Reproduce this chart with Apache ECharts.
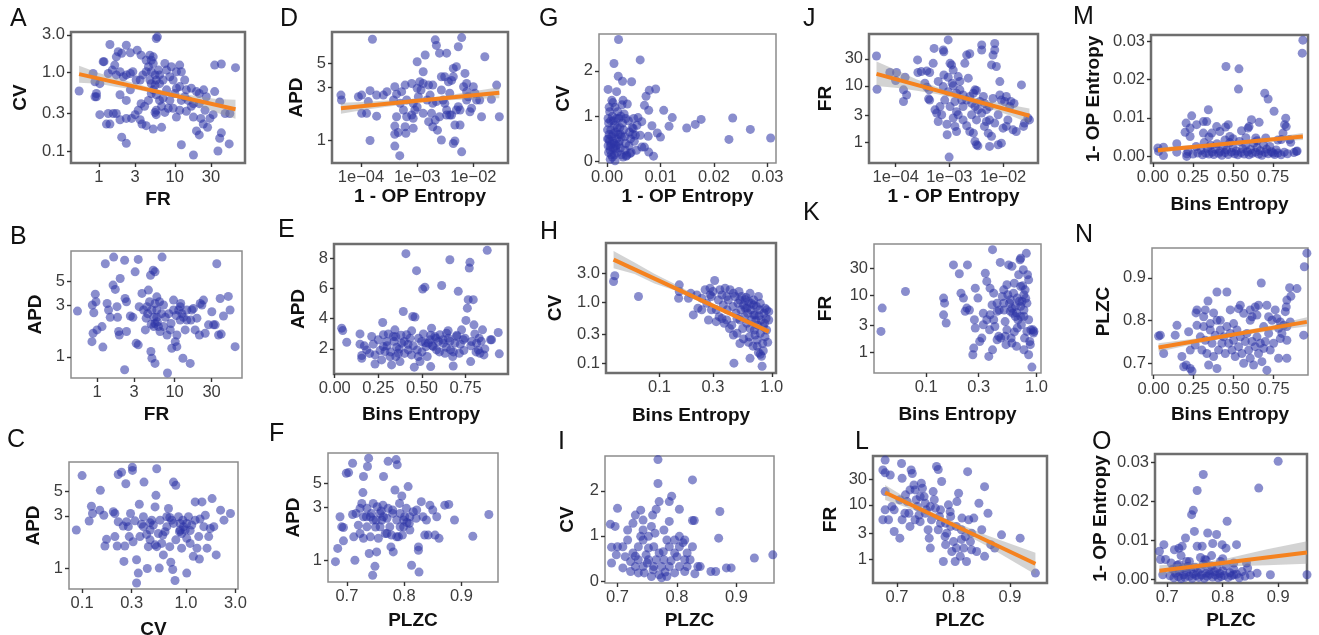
<!DOCTYPE html>
<html>
<head>
<meta charset="utf-8">
<title>Pairwise feature scatter</title>
<script src="https://cdn.jsdelivr.net/npm/echarts@6/dist/echarts.min.js"></script>
<style>
html, body { margin: 0; padding: 0; background: #fff; }
#main { width: 1319px; height: 635px; }
</style>
</head>
<body>
<div id="main"></div>
<script>
// ---- tick values / labels ----
var ticksFR = [1, 3, 10, 30],            labelsFR = ['1', '3', '10', '30'];
var ticksCV = [0.1, 0.3, 1, 3],          labelsCV = ['0.1', '0.3', '1.0', '3.0'];
var ticksAPD = [1, 3, 5],                labelsAPD = ['1', '3', '5'];
var ticksAPDlin = [2, 4, 6, 8],          labelsAPDlin = ['2', '4', '6', '8'];
var ticksOPElog = [1e-4, 1e-3, 1e-2],    labelsOPElog = ['1e\u221204', '1e\u221203', '1e\u221202'];
var ticksOPE = [0, 0.01, 0.02, 0.03],    labelsOPE = ['0.00', '0.01', '0.02', '0.03'];
var ticksBE = [0, 0.25, 0.5, 0.75],      labelsBE = ['0.00', '0.25', '0.50', '0.75'];
var ticksBElog = [0.1, 0.3, 1],          labelsBElog = ['0.1', '0.3', '1.0'];
var ticksPLZC = [0.7, 0.8, 0.9],         labelsPLZC = ['0.7', '0.8', '0.9'];
var ticksCVlin = [0, 1, 2],              labelsCVlin = ['0', '1', '2'];

// ---- A: FR vs CV ----
var ptsA = [[1.4,2.27],[2.3,2.22],[2.0,1.75],[1.8,1.83],[1.7,1.58],[1.62,1.24],[2.6,1.78],[3.2,1.92],[3.6,1.66],[4.2,1.43],[4.5,1.18],[4.7,1.66],[4.9,1.43],[5.2,1.58],[5.7,2.7],[5.9,2.84],[5.2,1.3],[4.9,1.02],[4.2,1.02],[3.8,0.93],[3.5,0.8],[3.1,0.8],[2.8,1.02],[2.6,0.97],[2.3,0.93],[2.1,0.88],[1.9,1.02],[1.7,0.93],[1.5,1.07],[1.33,0.97],[1.03,0.72],[5.7,0.8],[6.3,0.72],[5.5,0.69],[5.2,0.6],[4.9,0.54],[4.5,0.44],[4.0,0.37],[3.6,0.4],[3.3,0.33],[3.0,0.29],[2.7,0.26],[2.3,0.26],[1.9,0.25],[1.55,0.30],[1.7,0.30],[2.0,0.15],[2.3,0.125],[4.2,0.21],[5.2,0.19],[6.7,0.2],[5.7,0.33],[5.7,0.29],[5.5,0.31],[6.3,0.44],[7.0,0.47],[7.8,0.6],[7.4,1.3],[7.8,1.07],[8.6,0.88],[9.0,1.18],[10.5,1.02],[11.6,1.24],[12.2,1.02],[13.5,0.8],[11.6,0.66],[10,0.54],[8.6,0.44],[8.2,0.35],[7.4,0.31],[9.5,0.35],[11.6,0.33],[10.5,0.27],[12.2,0.44],[13.5,0.49],[14.2,0.6],[16.5,0.63],[19.3,0.57],[21,0.54],[24,0.6],[26,0.49],[17.6,0.4],[16.5,0.37],[21,0.4],[25,0.33],[22,0.26],[23.7,0.22],[27,0.2],[19.3,0.18],[21,0.16],[17.6,0.27],[12.2,0.12],[17.6,0.089],[33.5,0.57],[33.5,1.24],[41,1.28],[63,1.15],[39,0.42],[46,0.30],[53,0.30],[41,0.17],[39,0.145],[52,0.123],[37,0.1],[29,0.26],[32,0.29],[4.7,0.8],[4.9,0.72],[5.5,0.93],[6.1,1.07],[6.3,0.93],[7.0,0.8],[5.7,0.52],[6.7,0.37],[2.3,0.44],[2.6,0.6],[1.9,0.52],[3.5,0.25],[3.7,0.22],[9.5,0.8],[10.5,0.63],[15,0.44],[14.2,0.32],[1.03,0.29],[0.93,0.49],[0.55,0.58],[0.84,0.97],[0.89,0.76],[0.93,0.54],[0.89,0.49],[1.14,1.37],[1.17,1.37],[1.26,0.22],[1.4,0.22],[1.33,0.30]];
var fitA = [[0.55, 0.95], [63, 0.34]];
var bandA = [[0.55,0.74,1.22],[1.0,0.72,0.98],[1.7,0.65,0.85],[3.2,0.6,0.71],[5.6,0.535,0.615],[10,0.48,0.55],[19,0.39,0.5],[35,0.31,0.46],[63,0.258,0.45]];

// ---- D: 1-OP Entropy vs APD ----
var ptsD = [[4.4e-5,2.57],[4.5e-5,2.32],[9e-5,2.48],[1.03e-4,2.57],[1.35e-4,2.24],[1.45e-4,2.82],[1.6e-4,8.3],[1.9e-4,2.57],[2.5e-4,2.57],[2.9e-4,2.76],[1.26e-4,1.75],[1.03e-4,1.75],[1.9e-4,1.65],[1.45e-4,0.99],[3.8e-4,2.32],[4.0e-4,3.06],[4.3e-4,2.62],[5.3e-4,2.76],[6.1e-4,3.17],[5e-4,2.16],[5.7e-4,1.88],[6.5e-4,1.63],[4.3e-4,1.63],[4e-4,1.34],[4.6e-4,1.17],[4e-4,1.13],[4e-4,0.88],[4.9e-4,0.72],[6.1e-4,1.32],[6.3e-4,1.15],[8.5e-4,1.28],[8e-4,1.69],[8.5e-4,1.58],[9.1e-4,1.88],[1e-3,2.96],[1e-3,5.18],[1.12e-3,3.4],[1.05e-3,2.48],[1.17e-3,2.86],[1.28e-3,3.28],[1.39e-3,5.96],[1.28e-3,4.2],[1.5e-3,2.32],[1.6e-3,3.17],[1.7e-3,2.57],[1.8e-3,1.75],[1.9e-3,3.17],[1.9e-3,2.16],[2.1e-3,8.2],[2.2e-3,7.3],[2.1e-3,1.52],[1.9e-3,1.32],[2.3e-3,1.23],[2.5e-3,6.2],[2.7e-3,3.78],[2.7e-3,2.86],[2.9e-3,2.32],[3.1e-3,3.78],[3.35e-3,6.2],[3.35e-3,1.88],[3.6e-3,3.4],[3.8e-3,2.67],[4.1e-3,3.5],[4.1e-3,1.69],[4.4e-3,3.78],[4.4e-3,4.5],[4.7e-3,1.37],[3.8e-3,1.69],[3.35e-3,1.69],[4.7e-3,0.98],[5e-3,4.67],[5.4e-3,7.1],[5.8e-3,1.37],[6.2e-3,8.6],[5.4e-3,2.01],[6.2e-3,0.78],[7.1e-3,4.05],[7.6e-3,2.76],[7.6e-3,3.28],[8.1e-3,2.48],[8.7e-3,1.81],[9.3e-3,1.95],[1e-2,3.06],[1.07e-2,2.67],[1.14e-2,2.32],[1.3e-2,2.32],[1.4e-2,1.63],[1.6e-2,5.75],[2.1e-2,2.35],[2.6e-2,3.17],[2.9e-2,1.63],[2.7e-3,1.0],[4.4e-3,0.93],[5.8e-3,1.88],[2.2e-3,2.24],[3.1e-3,2.16],[1.6e-3,1.47],[1e-3,2.0],[8.5e-4,2.16],[6.5e-4,2.32],[8e-4,3.28],[1.28e-3,1.75],[2.5e-3,1.63],[5e-3,1.88],[7.6e-3,2.32],[6.7e-3,3.06]];
var fitD = [[4.4e-5, 1.95], [2.9e-2, 2.7]];
var bandD = [[4.4e-5,1.74,2.19],[1.1e-4,1.88,2.22],[2.5e-4,1.99,2.28],[5.5e-4,2.1,2.33],[1.2e-3,2.21,2.4],[2.7e-3,2.29,2.51],[6e-3,2.33,2.67],[1.3e-2,2.38,2.84],[2.9e-2,2.41,3.03]];

// ---- G: 1-OP Entropy vs CV ----
var ptsG = [[0.00215,2.69],[0.0013,2.16],[0.0062,2.24],[0.0021,1.88],[0.0029,1.77],[0.0046,1.76],[0.0002,1.59],[0.0018,1.54],[0.0079,1.57],[0.0091,1.6],[0.0073,1.44],[0.0106,1.13],[0.007,1.24],[0.0078,1.13],[0.0122,0.97],[0.0058,0.97],[0.0116,0.78],[0.0149,0.74],[0.0165,0.82],[0.0176,0.93],[0.0235,0.96],[0.0268,0.71],[0.0228,0.49],[0.0306,0.52],[0.0094,0.63],[0.01,0.54],[0.0077,0.56],[0.0084,0.79],[0.0065,0.88],[0.0056,0.8],[0.0049,0.73],[0.0053,0.58],[0.0062,0.58],[0.0065,0.32],[0.007,0.32],[0.0078,0.21],[0.0087,0.12],[0.0043,0.18],[0.0037,0.14],[0.003,0.1],[0.0002,0.95],[0.0003,0.85],[0.0004,0.6],[0.0005,0.45],[0.0002,0.35],[0.0006,0.25],[0.0003,0.2],[0.0008,0.15],[0.001,0.1],[0.0012,0.3],[0.0007,0.7],[0.0009,0.55],[0.001,1.0],[0.0012,0.9],[0.0015,1.2],[0.0011,1.3],[0.0014,0.8],[0.0016,0.65],[0.0018,0.5],[0.0013,0.4],[0.0017,0.35],[0.0019,0.2],[0.002,1.1],[0.0022,0.95],[0.0024,0.75],[0.0021,0.6],[0.0023,0.45],[0.0025,0.3],[0.0027,0.15],[0.0028,1.25],[0.003,1.35],[0.0032,1.05],[0.0029,0.85],[0.0031,0.7],[0.0033,0.55],[0.0035,0.4],[0.0034,0.25],[0.0036,0.12],[0.0038,1.27],[0.004,0.9],[0.0042,0.65],[0.0044,0.5],[0.0041,0.35],[0.0045,0.2],[0.0005,1.1],[0.0004,1.2],[0.0001,0.7],[0.0001,0.5],[0.0006,0.05],[0.0015,0.02],[0.0009,1.35],[0.0026,1.0],[0.0019,0.75],[0.0008,0.38],[0.0016,0.28],[0.0035,0.95],[0.0027,0.55],[0.0012,0.62],[0.0022,0.38],[0.0047,0.75],[0.0051,0.45],[0.0055,0.25],[0.0050,0.95],[0.0048,0.6],[0.0003,0.5],[0.0007,0.9],[0.0011,0.45],[0.0014,0.15],[0.0018,0.95],[0.0025,0.6],[0.0006,0.33]];

// ---- J: 1-OP Entropy vs FR ----
var ptsJ = [[4.4e-5,33.8],[4.5e-5,8.7],[7.8e-5,17.2],[1.04e-4,17.2],[1.0e-4,12.4],[1.4e-4,8.5],[1.6e-4,6.9],[1.4e-4,5.3],[1.5e-4,14.2],[2.56e-4,28.8],[2.6e-4,17.2],[3.0e-4,17.9],[3.8e-4,18.4],[4.3e-4,17.2],[4.2e-4,8.5],[3.5e-4,11.1],[3.8e-4,9.5],[4.1e-4,5.9],[4.3e-4,5.6],[5e-4,25],[5.2e-4,46],[5.4e-4,3.77],[5.8e-4,3.3],[6.2e-4,2.35],[7.2e-4,3.08],[7.7e-4,43],[7.9e-4,40],[7.9e-4,15.6],[8.2e-4,5.6],[9e-4,2.1],[9.1e-4,1.37],[9.5e-4,65],[9.5e-4,14.2],[9.5e-4,7.9],[1.03e-3,25],[1.1e-3,23.5],[1.13e-3,11.1],[1.18e-3,10],[1.27e-3,5.3],[1.18e-3,2.7],[1.27e-3,1.92],[1.36e-3,1.56],[9.9e-4,0.55],[1.46e-3,14.6],[1.57e-3,12],[1.7e-3,5.6],[1.8e-3,4.3],[1.94e-3,25],[2.1e-3,35],[2.4e-3,37],[2.25e-3,13.7],[2.6e-3,3.08],[2.4e-3,1.56],[2.1e-3,1.97],[2.8e-3,1.46],[3.0e-3,1.04],[3.2e-3,0.91],[3.4e-3,0.87],[3.0e-3,8.5],[3.2e-3,8.3],[3.7e-3,5.3],[4.0e-3,3.3],[4.0e-3,53],[4.0e-3,43],[4.3e-3,6.5],[4.5e-3,4.9],[4.9e-3,2.35],[5.3e-3,1.46],[5.6e-3,0.85],[6.1e-3,1.28],[6.1e-3,23.5],[6.5e-3,35],[7.0e-3,56],[7.0e-3,43],[7.5e-3,22],[7.0e-3,2.2],[8.1e-3,3.08],[8.1e-3,0.91],[9.3e-3,0.97],[8.7e-3,11.9],[8.7e-3,6.9],[9.3e-3,5.6],[1e-2,1.79],[1.07e-2,5.3],[1.15e-2,6.5],[1.15e-2,1.92],[1.23e-2,2.5],[1.4e-2,5.3],[1.33e-2,4.3],[1.53e-2,1.67],[1.6e-2,4.9],[1.76e-2,1.56],[2.2e-2,10.4],[2.4e-2,1.92],[2.5e-2,2.2],[2.9e-2,2.7],[3.1e-2,2.5],[1.36e-3,7.4],[1.57e-3,8.5],[1.8e-3,6.9],[2.1e-3,5.6],[2.4e-3,6.5],[2.8e-3,7.4],[2.6e-3,4.9],[3.0e-3,4.3],[3.4e-3,3.8],[3.2e-3,2.5],[4.5e-3,1.92],[4.9e-3,3.8],[5.6e-3,4.3],[5.6e-3,2.5],[6.5e-3,6.0],[1.46e-3,3.08],[1.8e-3,2.5],[1.36e-3,3.5],[1.03e-3,4.3],[6.7e-4,4.3],[7.7e-4,9.7],[6.2e-4,12],[1.18e-3,19]];
var fitJ = [[4.4e-5, 16.3], [3.1e-2, 2.96]];
var bandJ = [[4.4e-5,9.9,27],[1.1e-4,9.2,18.5],[2.5e-4,8.2,13.0],[6e-4,7.1,9.5],[1.3e-3,6.0,7.6],[2.8e-3,4.9,6.2],[6e-3,3.86,5.33],[1.4e-2,2.95,4.6],[3.1e-2,2.19,4.0]];

// ---- M: Bins Entropy vs 1-OP Entropy ----
var ptsM = [[0.936,0.0303],[0.932,0.0269],[0.456,0.0234],[0.537,0.0228],[0.534,0.0175],[0.698,0.0164],[0.719,0.0149],[0.346,0.0121],[0.756,0.0117],[0.242,0.0105],[0.615,0.0095],[0.663,0.0088],[0.829,0.0099],[0.822,0.0082],[0.832,0.0077],[0.315,0.009],[0.336,0.009],[0.207,0.0086],[0.273,0.0082],[0.398,0.0077],[0.453,0.0076],[0.47,0.0082],[0.600,0.0077],[0.232,0.0073],[0.201,0.0062],[0.232,0.0051],[0.367,0.006],[0.315,0.006],[0.418,0.0064],[0.553,0.0066],[0.594,0.0073],[0.480,0.0051],[0.642,0.0047],[0.704,0.0047],[0.812,0.006],[0.801,0.0043],[0.853,0.0043],[0.066,0.0023],[0.031,0.0021],[0.035,0.0012],[0.066,0.0001],[0.149,0.0032],[0.149,0.001],[0.211,0.0006],[0.211,-0.0001],[0.895,0.0012],[0.75,0.0008],[0.22,0.0012],[0.25,0.0005],[0.27,0.0025],[0.28,0.0008],[0.3,0.0015],[0.31,0.0003],[0.32,0.0035],[0.33,0.0008],[0.34,0.002],[0.35,0.0005],[0.36,0.0028],[0.37,0.001],[0.38,0.0004],[0.39,0.0018],[0.40,0.0032],[0.41,0.0007],[0.42,0.0012],[0.43,0.0002],[0.44,0.0024],[0.45,0.0009],[0.46,0.0016],[0.47,0.0004],[0.48,0.0035],[0.49,0.001],[0.5,0.0022],[0.51,0.0006],[0.52,0.0013],[0.53,0.0003],[0.54,0.0038],[0.55,0.0009],[0.56,0.0019],[0.57,0.0005],[0.58,0.0028],[0.59,0.0011],[0.6,0.0003],[0.61,0.0017],[0.62,0.0007],[0.63,0.0034],[0.64,0.001],[0.65,0.0022],[0.66,0.0005],[0.67,0.0014],[0.68,0.0002],[0.69,0.003],[0.7,0.0009],[0.71,0.0018],[0.72,0.0006],[0.73,0.0025],[0.74,0.0011],[0.76,0.0004],[0.77,0.0016],[0.78,0.0008],[0.8,0.0003],[0.82,0.001],[0.84,0.0006],[0.86,0.0036],[0.88,0.0009],[0.9,0.0013],[0.35,0.005],[0.5,0.0045],[0.65,0.004],[0.45,0.0042],[0.58,0.0048],[0.78,0.0042]];
var fitM = [[0.031, 0.0015], [0.936, 0.0051]];
var bandM = [[0.031,0.0008,0.0022],[0.25,0.0019,0.0029],[0.5,0.003,0.0037],[0.75,0.0038,0.0049],[0.936,0.0042,0.006]];

// ---- B: FR vs APD ----
var ptsB = [[0.56,2.64],[0.87,3.0],[0.95,3.78],[0.97,3.22],[0.91,2.55],[0.89,1.65],[0.86,1.38],[1.0,1.77],[1.19,1.23],[1.16,1.9],[1.28,7.2],[1.35,3.1],[1.41,2.7],[1.48,2.31],[1.64,8.3],[1.61,4.58],[1.72,4.18],[1.81,2.9],[1.84,2.31],[1.9,1.71],[1.94,1.59],[1.99,5.27],[2.27,7.76],[2.3,3.45],[2.4,3.22],[2.4,1.71],[2.27,0.76],[2.69,2.38],[2.9,2.31],[3.1,6.07],[3.2,1.33],[3.4,7.9],[3.4,1.29],[3.5,2.9],[3.8,3.84],[3.99,2.7],[4.3,2.27],[4.2,1.77],[4.6,4.12],[4.9,5.65],[5.3,6.29],[5.6,6.07],[4.95,1.12],[5.1,0.97],[5.6,0.87],[4.76,3.22],[5.1,2.7],[5.4,2.31],[5.6,3.1],[5.9,2.7],[5.6,2.03],[6.2,1.9],[6.5,1.71],[6.9,8.3],[6.4,3.22],[7.2,3.0],[7.6,2.31],[8.0,1.59],[8.1,0.71],[8.4,2.5],[9.0,2.03],[9.2,1.2],[9.7,3.33],[10.2,1.38],[10.7,1.59],[10.7,1.24],[11.3,2.7],[11.8,2.9],[12.4,2.5],[12.8,0.97],[13.0,2.31],[13.7,1.77],[14.4,2.7],[15.9,0.87],[16.2,2.18],[16.7,2.7],[17.5,2.79],[18.4,1.77],[19.4,2.27],[20.9,1.59],[21.4,3.1],[22.5,3.0],[23.6,3.33],[24.8,1.65],[27.4,1.97],[30.2,2.6],[31.8,1.97],[33.4,1.97],[35,7.2],[36.9,1.59],[38.7,3.45],[39.9,1.62],[42.7,2.38],[49.3,3.6],[51.9,2.7],[60.3,1.24],[4.4,2.9],[5.9,2.31],[5.4,1.9],[7.2,1.9],[8.8,1.77],[9.7,2.7],[11.8,2.18],[14.4,2.18],[5.9,3.57],[4.5,2.5],[6.0,2.1],[5.0,2.0],[6.8,2.5],[10.5,2.4],[12.0,3.1]];

// ---- E: Bins Entropy vs APD ----
var ptsE = [[0.040,3.37],[0.046,3.21],[0.069,2.44],[0.145,2.99],[0.145,2.31],[0.155,1.56],[0.155,1.38],[0.183,1.93],[0.212,2.82],[0.221,2.31],[0.231,1.6],[0.231,1.0],[0.275,3.74],[0.279,2.93],[0.279,2.15],[0.269,1.27],[0.288,1.82],[0.298,2.49],[0.307,2.99],[0.317,1.49],[0.326,0.94],[0.336,2.82],[0.345,3.26],[0.355,2.11],[0.365,1.71],[0.374,1.16],[0.384,2.38],[0.393,4.47],[0.399,2.49],[0.408,8.29],[0.412,2.93],[0.422,1.93],[0.431,2.71],[0.441,3.19],[0.447,4.14],[0.456,0.79],[0.46,4.1],[0.469,7.17],[0.473,1.93],[0.479,1.49],[0.489,1.16],[0.498,2.49],[0.504,5.95],[0.508,2.99],[0.517,6.08],[0.523,2.15],[0.536,2.38],[0.546,2.6],[0.55,0.83],[0.555,3.37],[0.565,2.15],[0.574,2.82],[0.584,1.93],[0.594,2.49],[0.603,2.93],[0.613,6.19],[0.622,2.38],[0.632,1.71],[0.641,3.04],[0.651,2.71],[0.66,7.89],[0.664,1.93],[0.676,1.49],[0.679,0.87],[0.689,2.38],[0.698,2.82],[0.708,5.8],[0.714,1.71],[0.727,3.26],[0.737,2.6],[0.746,2.71],[0.752,3.88],[0.76,4.69],[0.765,5.25],[0.771,7.34],[0.775,7.72],[0.779,1.16],[0.784,2.49],[0.794,5.25],[0.798,3.59],[0.803,2.99],[0.813,2.38],[0.823,1.93],[0.828,2.71],[0.832,1.71],[0.847,3.26],[0.855,1.6],[0.874,8.51],[0.893,2.6],[0.899,2.6],[0.937,3.08],[0.943,1.67],[0.17,2.2],[0.2,1.7],[0.25,2.6],[0.26,1.9],[0.3,2.2],[0.32,1.8],[0.34,2.5],[0.35,1.5],[0.37,2.0],[0.38,2.9],[0.4,1.7],[0.42,2.3],[0.44,1.6],[0.45,2.2],[0.48,2.7],[0.5,1.8],[0.52,2.4],[0.53,1.5],[0.56,2.2],[0.58,2.7],[0.6,1.8],[0.62,2.6],[0.64,2.1],[0.66,2.5],[0.68,1.8],[0.7,2.9],[0.72,2.3],[0.74,1.9],[0.78,2.2],[0.81,1.8],[0.84,2.5],[0.86,2.0],[0.35,2.8],[0.55,2.9],[0.65,3.2]];

// ---- H: Bins Entropy vs CV ----
var ptsH = [[0.039,2.19],[0.040,2.72],[0.065,1.24],[0.15,1.93],[0.15,1.5],[0.148,1.16],[0.181,1.16],[0.2,0.62],[0.215,1.32],[0.22,0.8],[0.238,1.16],[0.255,1.6],[0.264,0.96],[0.273,0.51],[0.282,1.7],[0.282,1.32],[0.29,1.24],[0.3,1.5],[0.31,2.27],[0.32,0.75],[0.335,1.09],[0.34,0.58],[0.345,1.6],[0.36,1.32],[0.37,0.9],[0.377,0.45],[0.384,1.7],[0.397,1.24],[0.4,0.75],[0.41,1.09],[0.42,0.37],[0.425,1.6],[0.44,0.42],[0.45,0.85],[0.455,1.4],[0.46,0.1],[0.47,1.24],[0.48,0.66],[0.49,0.31],[0.5,0.96],[0.51,1.5],[0.52,0.51],[0.52,1.09],[0.53,0.75],[0.54,1.24],[0.55,0.37],[0.56,0.9],[0.57,0.58],[0.58,0.8],[0.59,1.2],[0.6,0.45],[0.61,0.66],[0.62,1.03],[0.63,0.27],[0.64,0.12],[0.65,0.75],[0.66,0.51],[0.68,0.19],[0.69,0.9],[0.7,0.35],[0.71,0.62],[0.73,0.85],[0.74,0.24],[0.75,0.42],[0.76,0.15],[0.78,0.75],[0.79,0.31],[0.8,0.51],[0.81,0.13],[0.83,0.21],[0.84,0.4],[0.85,0.66],[0.87,0.27],[0.89,0.54],[0.9,0.75],[0.92,0.22],[0.94,0.51],[0.82,0.089],[0.69,0.62],[0.64,0.37],[0.74,0.19],[0.84,0.16],[0.79,0.14],[0.9,0.35],[0.71,0.29],[0.56,0.25],[0.52,0.21],[0.62,0.22],[0.49,0.54],[0.455,0.29],[0.397,0.51],[0.36,0.54],[0.32,0.48],[0.29,0.75],[0.238,0.75],[0.19,1.4],[0.64,1.4],[0.69,1.09],[0.79,0.96],[0.87,0.8],[0.76,1.24],[0.94,0.7],[0.6,0.8],[0.66,0.95],[0.72,0.5],[0.86,0.45],[0.77,0.6],[0.58,1.1]];
var fitH = [[0.039, 5.0], [0.94, 0.33]];
var bandH = [[0.039,3.62,6.9],[0.06,2.9,4.5],[0.09,2.03,2.93],[0.14,1.55,1.95],[0.2,1.13,1.36],[0.3,0.83,0.95],[0.45,0.585,0.657],[0.65,0.43,0.5],[0.94,0.297,0.367]];

// ---- K: Bins Entropy vs FR ----
var ptsK = [[0.04,6.06],[0.039,2.35],[0.065,11.9],[0.144,9.1],[0.147,7.4],[0.144,4.6],[0.152,3.3],[0.177,35],[0.2,24.5],[0.207,11.1],[0.218,9.1],[0.226,5.3],[0.234,6.06],[0.237,35],[0.247,5.6],[0.279,13.6],[0.279,2.7],[0.27,1.19],[0.265,0.91],[0.274,3.77],[0.295,9.1],[0.306,1.56],[0.32,1.79],[0.33,4.9],[0.344,25],[0.355,17.9],[0.37,0.85],[0.376,2.5],[0.38,4.6],[0.38,13.6],[0.396,6.9],[0.4,65],[0.41,11.1],[0.42,2.87],[0.44,5.3],[0.455,1.92],[0.46,5.6],[0.47,38.8],[0.475,1.79],[0.49,9.7],[0.505,12.7],[0.51,5.6],[0.52,3.5],[0.53,1.37],[0.54,15.6],[0.55,10.4],[0.56,35],[0.57,7.4],[0.58,5.3],[0.59,1.79],[0.6,33],[0.6,1.46],[0.61,4.9],[0.62,11.1],[0.63,16.7],[0.645,6.5],[0.66,1.28],[0.67,9.1],[0.68,3.77],[0.69,23.5],[0.71,43],[0.72,14.6],[0.72,46],[0.73,3.08],[0.74,7.9],[0.76,28.8],[0.77,5.6],[0.78,1.79],[0.79,12.7],[0.81,56],[0.82,2.35],[0.83,23.5],[0.85,19.1],[0.85,0.91],[0.87,1.56],[0.88,1.37],[0.89,2.5],[0.91,0.55],[0.93,2.5],[0.94,2.2],[0.95,2.35],[0.77,4.3],[0.72,4.3],[0.67,2.7],[0.54,2.5],[0.52,1.92],[0.44,1.67],[0.4,1.11],[0.77,1.11],[0.85,3.77],[0.82,7.4],[0.77,10.4],[0.72,6.5],[0.645,4.3],[0.58,8.5],[0.505,7.4],[0.44,7.4],[0.41,3.77],[0.355,3.77],[0.33,3.08],[0.6,6.0],[0.66,5.0],[0.7,8.0],[0.75,15.0],[0.8,9.0],[0.63,2.3]];

// ---- N: Bins Entropy vs PLZC ----
var ptsN = [[0.958,0.958],[0.942,0.926],[0.896,0.875],[0.85,0.877],[0.858,0.857],[0.833,0.848],[0.829,0.832],[0.823,0.821],[0.673,0.888],[0.396,0.867],[0.458,0.867],[0.34,0.846],[0.271,0.825],[0.265,0.818],[0.323,0.825],[0.375,0.818],[0.417,0.801],[0.479,0.825],[0.531,0.828],[0.542,0.836],[0.563,0.817],[0.604,0.825],[0.615,0.809],[0.635,0.832],[0.646,0.813],[0.656,0.836],[0.708,0.836],[0.719,0.809],[0.74,0.801],[0.76,0.825],[0.771,0.805],[0.792,0.797],[0.813,0.789],[0.833,0.786],[0.854,0.797],[0.781,0.782],[0.802,0.77],[0.792,0.758],[0.833,0.754],[0.833,0.712],[0.781,0.712],[0.938,0.766],[0.042,0.766],[0.031,0.764],[0.063,0.723],[0.146,0.789],[0.135,0.766],[0.177,0.716],[0.188,0.692],[0.204,0.696],[0.229,0.688],[0.24,0.682],[0.219,0.774],[0.229,0.731],[0.26,0.743],[0.271,0.789],[0.292,0.762],[0.302,0.731],[0.313,0.786],[0.323,0.754],[0.333,0.723],[0.344,0.696],[0.354,0.778],[0.365,0.747],[0.375,0.716],[0.385,0.766],[0.396,0.688],[0.406,0.731],[0.417,0.778],[0.427,0.747],[0.438,0.762],[0.448,0.723],[0.458,0.786],[0.469,0.747],[0.479,0.77],[0.49,0.731],[0.5,0.754],[0.51,0.716],[0.521,0.778],[0.531,0.739],[0.542,0.762],[0.552,0.723],[0.563,0.7],[0.573,0.751],[0.583,0.77],[0.594,0.731],[0.604,0.712],[0.615,0.751],[0.625,0.696],[0.635,0.739],[0.646,0.762],[0.656,0.723],[0.667,0.747],[0.677,0.704],[0.688,0.735],[0.698,0.751],[0.708,0.684],[0.719,0.77],[0.729,0.731],[0.75,0.747],[0.313,0.809],[0.396,0.801],[0.5,0.793],[0.604,0.801],[0.688,0.786],[0.354,0.793]];
var fitN = [[0.031, 0.737], [0.958, 0.797]];
var bandN = [[0.031,0.727,0.747],[0.3,0.749,0.760],[0.5,0.763,0.772],[0.75,0.777,0.790],[0.958,0.786,0.808]];

// ---- C: CV vs APD ----
var ptsC = [[0.088,2.23],[0.1,7.0],[0.117,2.69],[0.123,3.67],[0.126,3.15],[0.148,3.38],[0.15,5.13],[0.162,3.04],[0.172,1.83],[0.166,1.59],[0.2,3.27],[0.207,3.15],[0.207,1.94],[0.218,1.59],[0.223,2.65],[0.223,7.16],[0.24,7.5],[0.249,2.42],[0.253,1.15],[0.258,1.59],[0.264,5.89],[0.268,2.65],[0.279,2.39],[0.285,1.94],[0.293,3.15],[0.305,8.34],[0.306,7.8],[0.31,1.74],[0.323,2.7],[0.335,0.73],[0.335,1.19],[0.348,0.9],[0.356,3.83],[0.361,1.94],[0.374,2.52],[0.39,2.39],[0.395,6.1],[0.418,2.03],[0.425,0.99],[0.435,1.57],[0.452,1.81],[0.469,2.74],[0.486,2.47],[0.505,3.62],[0.505,1.63],[0.515,4.62],[0.524,8.07],[0.543,2.07],[0.554,1.0],[0.564,2.74],[0.585,1.68],[0.607,1.32],[0.63,2.15],[0.655,2.94],[0.68,3.5],[0.7,1.57],[0.716,1.13],[0.73,2.74],[0.747,0.97],[0.76,6.1],[0.786,0.77],[0.8,5.7],[0.849,2.94],[0.868,2.15],[0.88,2.56],[0.91,1.52],[0.935,2.74],[0.95,2.39],[0.985,2.23],[1.02,0.9],[1.02,1.87],[1.06,2.94],[1.1,1.68],[1.14,2.47],[1.18,1.28],[1.23,4.02],[1.23,2.74],[1.28,1.52],[1.33,1.94],[1.35,1.21],[1.37,2.81],[1.43,4.02],[1.49,2.39],[1.54,3.04],[1.6,1.52],[1.66,1.94],[1.72,2.3],[1.79,4.31],[1.96,1.32],[1.86,2.39],[2.16,3.38],[2.33,2.74],[2.69,3.15],[0.655,2.39],[0.76,2.56],[0.88,2.23],[0.524,1.57],[0.452,2.23],[0.39,2.94],[1.02,2.56],[0.91,2.07],[0.8,1.81],[0.6,2.0],[0.7,2.9],[1.1,2.2],[0.45,2.6]];

// ---- F: PLZC vs APD ----
var ptsF = [[0.68,0.97],[0.684,1.28],[0.688,2.48],[0.691,2.01],[0.694,1.98],[0.694,1.5],[0.699,6.16],[0.703,6.25],[0.71,7.6],[0.71,2.6],[0.712,1.63],[0.714,1.0],[0.716,2.66],[0.72,2.08],[0.723,2.96],[0.726,3.28],[0.728,4.11],[0.729,5.75],[0.729,1.58],[0.734,2.48],[0.735,2.96],[0.736,7.1],[0.738,8.45],[0.739,1.15],[0.741,1.63],[0.743,2.66],[0.745,0.73],[0.746,3.28],[0.749,0.88],[0.751,2.32],[0.752,1.19],[0.753,3.06],[0.755,1.58],[0.758,2.66],[0.761,2.32],[0.763,3.16],[0.764,5.75],[0.767,1.75],[0.77,2.4],[0.772,7.9],[0.772,2.96],[0.775,2.01],[0.777,1.32],[0.778,1.69],[0.78,2.66],[0.781,1.19],[0.784,4.34],[0.786,8.2],[0.787,2.32],[0.788,7.35],[0.79,1.63],[0.792,3.28],[0.793,2.66],[0.796,3.83],[0.797,1.69],[0.799,2.32],[0.801,2.48],[0.804,2.96],[0.807,4.66],[0.809,2.16],[0.81,1.88],[0.813,0.9],[0.816,2.76],[0.821,2.4],[0.825,1.32],[0.825,1.23],[0.826,0.78],[0.83,3.4],[0.833,2.48],[0.836,1.69],[0.839,2.32],[0.842,1.69],[0.845,3.16],[0.85,2.86],[0.854,1.69],[0.857,2.48],[0.861,1.58],[0.871,3.16],[0.878,3.21],[0.888,2.32],[0.92,1.65],[0.948,2.6],[0.735,2.01],[0.746,2.32],[0.758,2.01],[0.77,1.75],[0.787,1.63],[0.799,2.01],[0.81,2.48],[0.822,2.86],[0.729,2.48],[0.723,1.75],[0.741,2.48],[0.764,2.48],[0.793,2.01],[0.78,2.86],[0.75,2.0],[0.76,2.8],[0.805,2.2]];

// ---- I: PLZC vs CV ----
var ptsI = [[0.768,2.69],[0.768,2.16],[0.826,2.24],[0.791,1.88],[0.787,1.76],[0.77,1.76],[0.7,1.61],[0.765,1.59],[0.739,1.57],[0.804,1.59],[0.872,1.54],[0.73,1.46],[0.759,1.46],[0.688,1.26],[0.696,1.21],[0.726,1.28],[0.743,1.35],[0.787,1.32],[0.826,1.34],[0.829,1.34],[0.757,1.21],[0.743,1.13],[0.717,1.13],[0.778,1.13],[0.87,0.95],[0.69,0.75],[0.7,0.76],[0.698,0.58],[0.69,0.4],[0.709,0.29],[0.722,0.21],[0.835,0.32],[0.839,0.32],[0.857,0.21],[0.865,0.21],[0.883,0.29],[0.891,0.29],[0.93,0.51],[0.961,0.58],[0.83,0.16],[0.726,0.62],[0.735,0.76],[0.743,0.91],[0.752,0.99],[0.761,0.76],[0.77,0.62],[0.778,0.47],[0.787,0.32],[0.796,0.18],[0.804,0.76],[0.813,0.91],[0.817,0.62],[0.822,0.47],[0.796,0.62],[0.804,0.99],[0.813,0.47],[0.752,0.47],[0.743,0.32],[0.735,0.18],[0.757,0.1],[0.77,0.14],[0.783,0.1],[0.761,0.32],[0.748,0.58],[0.735,0.47],[0.722,0.43],[0.713,0.54],[0.73,0.32],[0.774,0.32],[0.787,0.76],[0.796,0.91],[0.783,0.91],[0.765,0.47],[0.804,0.32],[0.813,0.21],[0.826,0.76],[0.8,0.54],[0.777,0.65],[0.752,0.73],[0.763,1.06],[0.739,0.99],[0.717,0.91],[0.709,0.76],[0.745,0.18],[0.774,0.07],[0.817,0.32],[0.75,0.4],[0.76,0.25],[0.79,0.45],[0.73,0.55],[0.81,0.85],[0.78,0.2]];

// ---- L: PLZC vs FR ----
var ptsL = [[0.679,67],[0.675,44],[0.679,39],[0.688,35.6],[0.679,17.6],[0.679,8.1],[0.675,5.3],[0.685,5.3],[0.691,9.3],[0.695,8.1],[0.695,3.23],[0.708,58],[0.709,31],[0.709,5.3],[0.705,2.43],[0.715,15.3],[0.718,11.5],[0.721,7.0],[0.723,4.0],[0.725,44],[0.727,38],[0.73,23.3],[0.732,18.9],[0.734,12.4],[0.736,9.3],[0.739,6.5],[0.741,4.9],[0.743,25],[0.745,20.3],[0.748,14.2],[0.75,10.7],[0.752,8.1],[0.755,3.47],[0.757,2.43],[0.759,1.59],[0.761,5.3],[0.764,17.6],[0.766,12.4],[0.768,8.7],[0.77,51],[0.773,45],[0.775,6.1],[0.777,4.6],[0.779,27],[0.782,0.9],[0.785,2.6],[0.786,1.84],[0.788,3.0],[0.791,10],[0.794,7.5],[0.795,4.0],[0.797,1.38],[0.8,2.1],[0.803,0.9],[0.805,1.59],[0.806,11.5],[0.809,16.4],[0.812,1.12],[0.814,3.47],[0.815,5.7],[0.818,1.59],[0.821,2.6],[0.823,0.9],[0.825,41],[0.827,5.3],[0.83,2.1],[0.832,1.48],[0.836,5.7],[0.841,1.38],[0.845,10.7],[0.855,1.12],[0.855,21.7],[0.861,7.0],[0.866,1.84],[0.873,1.59],[0.885,2.8],[0.918,2.43],[0.945,0.55],[0.75,7.0],[0.759,9.3],[0.741,14.2],[0.723,18.9],[0.777,8.1],[0.795,6.1],[0.786,4.6],[0.805,4.0],[0.814,2.3],[0.832,3.0],[0.85,3.47],[0.773,3.47],[0.732,5.3],[0.714,7.0],[0.705,12.4]];
var fitL = [[0.679, 16.9], [0.945, 0.82]];
var bandL = [[0.679,12.3,23.3],[0.73,8.05,11.1],[0.78,4.78,6.0],[0.86,1.72,2.72],[0.945,0.52,1.3]];

// ---- O: PLZC vs 1-OP Entropy ----
var ptsO = [[0.9,0.0302],[0.765,0.0268],[0.754,0.0227],[0.865,0.0233],[0.747,0.0176],[0.744,0.0165],[0.808,0.0148],[0.749,0.0122],[0.773,0.0118],[0.733,0.0105],[0.789,0.0114],[0.754,0.0084],[0.763,0.0084],[0.686,0.0071],[0.694,0.0088],[0.713,0.0075],[0.721,0.0079],[0.727,0.0084],[0.782,0.0091],[0.799,0.0088],[0.806,0.0079],[0.825,0.0088],[0.688,0.005],[0.697,0.005],[0.707,0.0041],[0.721,0.0037],[0.735,0.0045],[0.768,0.005],[0.796,0.0045],[0.82,0.0041],[0.843,0.0041],[0.862,0.0015],[0.886,0.0011],[0.952,0.0011],[0.82,0.0011],[0.692,0.0011],[0.705,0.0008],[0.71,0.0025],[0.712,0.0003],[0.715,0.0015],[0.718,0.0035],[0.72,0.0006],[0.722,0.002],[0.725,0.0001],[0.728,0.0028],[0.73,0.0011],[0.732,0.0004],[0.735,0.0018],[0.737,0.0032],[0.74,0.0007],[0.742,0.0024],[0.745,0.0002],[0.747,0.0013],[0.75,0.003],[0.752,0.0009],[0.755,0.0017],[0.757,0.0004],[0.76,0.0026],[0.762,0.001],[0.765,0.0038],[0.767,0.0002],[0.77,0.0015],[0.772,0.0007],[0.775,0.0022],[0.777,0.0012],[0.78,0.0033],[0.782,0.0005],[0.785,0.0019],[0.787,0.001],[0.79,0.0027],[0.792,0.0003],[0.795,0.0014],[0.797,0.0006],[0.8,0.0021],[0.803,0.0009],[0.806,0.0034],[0.81,0.0004],[0.813,0.0016],[0.816,0.0008],[0.82,0.0025],[0.825,0.0012],[0.83,0.0003],[0.835,0.0019],[0.84,0.0007],[0.845,0.0028],[0.85,0.001],[0.74,0.0045],[0.76,0.0055],[0.78,0.006],[0.8,0.0052],[0.725,0.006],[0.77,0.0048]];
var fitO = [[0.686, 0.0021], [0.952, 0.0068]];
var bandO = [[0.686,0.0008,0.0035],[0.75,0.0024,0.0041],[0.8,0.0032,0.005],[0.88,0.0035,0.0076],[0.952,0.0039,0.0097]];

// ---- layout: one entry per panel ----
var FONT = '"Liberation Sans", Arial, Helvetica, sans-serif';
var panels = [
  {id:'A', box:[71,32,174,131],  thick:true,  tag:[10,7],    pts:ptsA, fit:fitA, band:bandA,
   x:{log:true, min:0.43, max:84, ticks:ticksFR, labels:labelsFR, name:'FR', gap:27},
   y:{log:true, min:0.0703, max:3.27, ticks:ticksCV, labels:labelsCV, name:'CV', gap:41}},
  {id:'D', box:[332,32,176,131], thick:true,  tag:[280,7],   pts:ptsD, fit:fitD, band:bandD,
   x:{log:true, min:3.05e-5, max:0.0414, ticks:ticksOPElog, labels:labelsOPElog, name:'1 - OP Entropy', gap:21},
   y:{log:true, min:0.617, max:9.67, ticks:ticksAPD, labels:labelsAPD, name:'APD', gap:26}},
  {id:'G', box:[599,34,177,129], thick:false, tag:[539,7],   pts:ptsG,
   x:{min:-0.0015, max:0.0316, ticks:ticksOPE, labels:labelsOPE, name:'1 - OP Entropy', gap:21},
   y:{min:-0.03, max:2.81, ticks:ticksCVlin, labels:labelsCVlin, name:'CV', gap:26}},
  {id:'J', box:[869,34,169,129], thick:true,  tag:[803,7],   pts:ptsJ, fit:fitJ, band:bandJ,
   x:{log:true, min:3.19e-5, max:0.0447, ticks:ticksOPElog, labels:labelsOPElog, name:'1 - OP Entropy', gap:21},
   y:{log:true, min:0.433, max:82.6, ticks:ticksFR, labels:labelsFR, name:'FR', gap:34}},
  {id:'M', box:[1151,35,157,128], thick:true, tag:[1073,5],  pts:ptsM, fit:fitM, band:bandM,
   x:{min:-0.012, max:0.968, ticks:ticksBE, labels:labelsBE, name:'Bins Entropy', gap:32},
   y:{min:-0.00183, max:0.03165, ticks:ticksOPE, labels:labelsOPE, name:'1- OP Entropy', gap:48}},

  {id:'B', box:[71,251,171,127], thick:false, tag:[10,225],  pts:ptsB,
   x:{log:true, min:0.462, max:74, ticks:ticksFR, labels:labelsFR, name:'FR', gap:27},
   y:{log:true, min:0.638, max:9.44, ticks:ticksAPD, labels:labelsAPD, name:'APD', gap:26}},
  {id:'E', box:[334,244,174,130], thick:true, tag:[278,218], pts:ptsE,
   x:{min:-0.004, max:0.993, ticks:ticksBE, labels:labelsBE, name:'Bins Entropy', gap:31},
   y:{min:0.34, max:8.93, ticks:ticksAPDlin, labels:labelsAPDlin, name:'APD', gap:26}},
  {id:'H', box:[606,243,170,130], thick:true, tag:[540,220], pts:ptsH, fit:fitH, band:bandH,
   x:{log:true, min:0.0334, max:1.09, ticks:ticksBElog, labels:labelsBElog, name:'Bins Entropy', gap:33},
   y:{log:true, min:0.069, max:9.37, ticks:ticksCV, labels:labelsCV, name:'CV', gap:41}},
  {id:'K', box:[874,244,167,129], thick:false, tag:[803,201], pts:ptsK,
   x:{log:true, min:0.0337, max:1.10, ticks:ticksBElog, labels:labelsBElog, name:'Bins Entropy', gap:32},
   y:{log:true, min:0.433, max:81.9, ticks:ticksFR, labels:labelsFR, name:'FR', gap:39}},
  {id:'N', box:[1152,248,156,127], thick:false, tag:[1075,223], pts:ptsN, fit:fitN, band:bandN,
   x:{min:-0.01, max:0.965, ticks:ticksBE, labels:labelsBE, name:'Bins Entropy', gap:30},
   y:{min:0.6727, max:0.970, ticks:ticksPLZC, labels:labelsPLZC, name:'PLZC', gap:39}},

  {id:'C', box:[69,462,169,127], thick:false, tag:[7,428],   pts:ptsC,
   x:{log:true, min:0.0748, max:3.18, ticks:ticksCV, labels:labelsCV, name:'CV', gap:31},
   y:{log:true, min:0.644, max:9.31, ticks:ticksAPD, labels:labelsAPD, name:'APD', gap:26}},
  {id:'F', box:[328,453,170,129], thick:false, tag:[269,422], pts:ptsF,
   x:{min:0.667, max:0.964, ticks:ticksPLZC, labels:labelsPLZC, name:'PLZC', gap:29},
   y:{log:true, min:0.634, max:9.41, ticks:ticksAPD, labels:labelsAPD, name:'APD', gap:25}},
  {id:'I', box:[605,456,169,127], thick:false, tag:[558,430], pts:ptsI,
   x:{min:0.679, max:0.963, ticks:ticksPLZC, labels:labelsPLZC, name:'PLZC', gap:28},
   y:{min:-0.044, max:2.77, ticks:ticksCVlin, labels:labelsCVlin, name:'CV', gap:28}},
  {id:'L', box:[873,456,174,127], thick:true, tag:[855,430], pts:ptsL, fit:fitL, band:bandL,
   x:{min:0.6575, max:0.9655, ticks:ticksPLZC, labels:labelsPLZC, name:'PLZC', gap:28},
   y:{log:true, min:0.361, max:79.8, ticks:ticksFR, labels:labelsFR, name:'FR', gap:33}},
  {id:'O', box:[1155,454,152,129], thick:true, tag:[1092,430], pts:ptsO, fit:fitO, band:bandO,
   x:{min:0.678, max:0.952, ticks:ticksPLZC, labels:labelsPLZC, name:'PLZC', gap:28},
   y:{min:-0.00103, max:0.03205, ticks:ticksOPE, labels:labelsOPE, name:'1- OP Entropy', gap:45}}
];

function labelFormatter(ticks, labels) {
  return function (v) {
    for (var i = 0; i < ticks.length; i++) {
      if (Math.abs(ticks[i] - v) <= Math.abs(ticks[i]) * 1e-6 + 1e-12) return labels[i];
    }
    return '';
  };
}

function makeAxis(i, a, vertical) {
  return {
    gridIndex: i,
    type: a.log ? 'log' : 'value',
    logBase: 10,
    min: a.min,
    max: a.max,
    name: a.name,
    nameLocation: 'middle',
    nameGap: a.gap,
    nameRotate: vertical ? 90 : 0,
    nameTextStyle: {fontFamily: FONT, fontWeight: 'bold', fontSize: 19, color: '#111'},
    axisLine: {show: false, onZero: false},
    axisTick: {show: true, length: 4, customValues: a.ticks, lineStyle: {color: '#333', width: 1.4}},
    axisLabel: {
      customValues: a.ticks,
      formatter: labelFormatter(a.ticks, a.labels),
      margin: 6,
      fontFamily: FONT,
      fontSize: 16.5,
      color: '#3c3c3c'
    },
    splitLine: {show: false},
    axisPointer: {show: false}
  };
}

var grids = [], xAxes = [], yAxes = [], series = [], tags = [];

panels.forEach(function (p, i) {
  grids.push({
    left: p.box[0], top: p.box[1], width: p.box[2], height: p.box[3],
    containLabel: false,
    outerBoundsMode: 'none',
    show: true,
    backgroundColor: '#fff',
    borderColor: p.thick ? '#6e6e6e' : '#8c8c8c',
    borderWidth: p.thick ? 2.5 : 1.5
  });
  xAxes.push(makeAxis(i, p.x, false));
  yAxes.push(makeAxis(i, p.y, true));

  series.push({
    type: 'scatter',
    xAxisIndex: i, yAxisIndex: i,
    data: p.pts,
    symbolSize: 9,
    itemStyle: {color: 'rgba(44, 52, 165, 0.7)'},
    silent: true,
    z: 2
  });

  if (p.band) {
    var band = p.band;
    series.push({
      type: 'custom',
      xAxisIndex: i, yAxisIndex: i,
      data: [[band[0][0], band[0][1]]],
      silent: true,
      z: 3,
      renderItem: function (params, api) {
        var upper = band.map(function (b) { return api.coord([b[0], b[2]]); });
        var lower = band.slice().reverse().map(function (b) { return api.coord([b[0], b[1]]); });
        return {
          type: 'polygon',
          shape: {points: upper.concat(lower)},
          style: {fill: 'rgba(150, 150, 150, 0.42)'}
        };
      }
    });
  }
  if (p.fit) {
    series.push({
      type: 'line',
      xAxisIndex: i, yAxisIndex: i,
      data: p.fit,
      showSymbol: false,
      silent: true,
      lineStyle: {color: '#f5821f', width: 4},
      z: 4
    });
  }

  tags.push({
    type: 'text',
    left: p.tag[0],
    top: p.tag[1],
    style: {text: p.id, fontFamily: FONT, fontSize: 25, fill: '#111'}
  });
});

var myChart = echarts.init(document.getElementById('main'), null, {renderer: 'canvas'});
myChart.setOption({
  backgroundColor: '#fff',
  animation: false,
  grid: grids,
  xAxis: xAxes,
  yAxis: yAxes,
  series: series,
  graphic: tags
});
</script>
</body>
</html>
